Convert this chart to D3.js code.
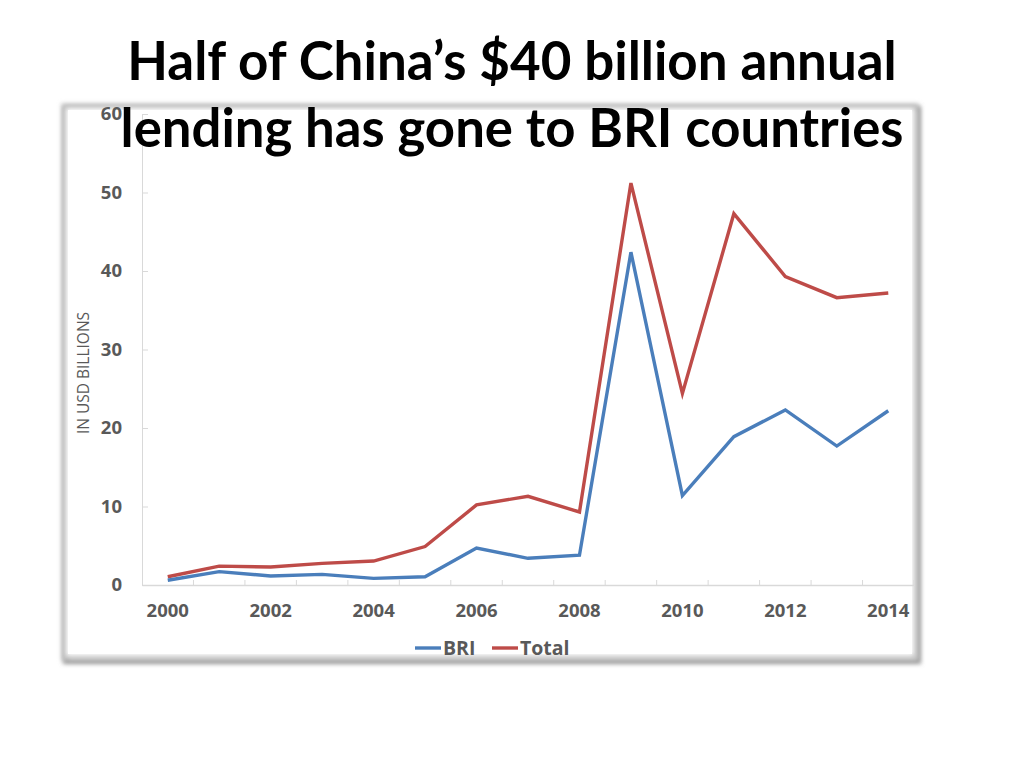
<!DOCTYPE html>
<html>
<head>
<meta charset="utf-8">
<script src="https://cdn.jsdelivr.net/npm/d3@7"></script>
<style>
  body { margin: 0; background: #fff; }
  svg { display: block; }
</style>
</head>
<body>
<div id="chart"></div>
<script>
'use strict';

// data (USD billions)
var years = ["2000", "2001", "2002", "2003", "2004", "2005", "2006", "2007",
             "2008", "2009", "2010", "2011", "2012", "2013", "2014"];
var briValues = [0.6, 1.7, 1.15, 1.35, 0.85, 1.05, 4.7, 3.4, 3.8, 42.4, 11.4, 18.9, 22.3, 17.7, 22.2];
var totalValues = [1.05, 2.4, 2.3, 2.75, 3.05, 4.9, 10.2, 11.3, 9.3, 51.2, 24.4, 47.3, 39.3, 36.6, 37.2];
var yTicks = [0, 10, 20, 30, 40, 50, 60];
var seriesNames = ["BRI", "Total"];
var titleLines = ["Half of China\u2019s $40 billion annual", "lending has gone to BRI countries"];

var width = 1024, height = 768;
var colors = {BRI: "#4a7ebb", Total: "#be4b48"};
var labelColor = "#595959";

var svg = d3.select("#chart")
    .append("svg")
    .attr("width", width)
    .attr("height", height);

var defs = svg.append("defs");
var blur = defs.append("filter")
    .attr("id", "soft")
    .attr("x", "-5%").attr("y", "-5%")
    .attr("width", "110%").attr("height", "110%");
blur.append("feGaussianBlur").attr("stdDeviation", 2.2);

// the gray framed picture
var frame = {x: 64, y: 106, w: 852, h: 552};
svg.append("rect")
    .attr("x", frame.x + 2).attr("y", frame.y + 3)
    .attr("width", frame.w).attr("height", frame.h)
    .attr("fill", "none")
    .attr("stroke", "#9a9a9a")
    .attr("stroke-width", 6)
    .attr("filter", "url(#soft)");
svg.append("rect")
    .attr("x", frame.x).attr("y", frame.y)
    .attr("width", frame.w).attr("height", frame.h)
    .attr("fill", "#fff")
    .attr("stroke", "#c4c4c4")
    .attr("stroke-width", 5)
    .attr("filter", "url(#soft)");
svg.append("rect")
    .attr("x", frame.x + 4).attr("y", frame.y + 4)
    .attr("width", frame.w - 8).attr("height", frame.h - 8)
    .attr("fill", "#fff");

var plot = {left: 142, right: 914, top: 114, bottom: 585};

var x = d3.scaleBand()
    .domain(years)
    .range([plot.left, plot.right])
    .paddingInner(0).paddingOuter(0);

var y = d3.scaleLinear()
    .domain([0, 60])
    .range([plot.bottom, plot.top]);

// y axis
var yAxis = d3.axisLeft(y)
    .tickValues(yTicks)
    .tickSize(0)
    .tickPadding(20);
var gy = svg.append("g")
    .attr("transform", "translate(" + plot.left + ",0)")
    .call(yAxis);
gy.select(".domain").attr("stroke", "#d9d9d9").attr("stroke-width", 1);
gy.selectAll(".tick text")
    .attr("fill", labelColor)
    .style("font-family", "'Open Sans', sans-serif")
    .style("font-weight", "bold")
    .style("font-size", "18.5px");
// small inner tick marks
gy.selectAll(".tick").append("line")
    .attr("x1", 0).attr("x2", 6)
    .attr("stroke", "#d9d9d9");

// x axis
var xAxis = d3.axisBottom(x)
    .tickSize(0)
    .tickPadding(19)
    .tickFormat(function(d, i) { return i % 2 === 0 ? d : ""; });
var gx = svg.append("g")
    .attr("transform", "translate(0," + plot.bottom + ")")
    .call(xAxis);
gx.select(".domain").attr("stroke", "#d9d9d9").attr("stroke-width", 1.5);
gx.selectAll(".tick text")
    .attr("fill", labelColor)
    .style("font-family", "'Open Sans', sans-serif")
    .style("font-weight", "bold")
    .style("font-size", "18.5px");

// category boundary tick marks, pointing up
svg.append("g").selectAll("line")
    .data(years)
    .enter()
    .append("line")
    .attr("x1", function(d) { return x(d) + x.bandwidth(); })
    .attr("x2", function(d) { return x(d) + x.bandwidth(); })
    .attr("y1", plot.bottom)
    .attr("y2", plot.bottom - 5)
    .attr("stroke", "#d9d9d9");

// y axis title
svg.append("text")
    .attr("transform", "translate(89," + 373 + ") rotate(-90)")
    .attr("text-anchor", "middle")
    .attr("fill", labelColor)
    .style("font-family", "'Open Sans', sans-serif")
    .style("font-size", "15.5px")
    .text("IN USD BILLIONS");

// lines
var line = d3.line()
    .x(function(d, i) { return x(years[i]) + x.bandwidth() / 2; })
    .y(function(d) { return y(d); });

var series = [
    {name: "Total", values: totalValues},
    {name: "BRI", values: briValues}
];

svg.append("g").selectAll("path")
    .data(series)
    .enter()
    .append("path")
    .attr("d", function(d) { return line(d.values); })
    .attr("fill", "none")
    .attr("stroke", function(d) { return colors[d.name]; })
    .attr("stroke-width", 3.4)
    .attr("stroke-linejoin", "miter")
    .attr("stroke-linecap", "butt");

// legend
var legendX = [415, 492];
var legend = svg.append("g").selectAll("g")
    .data(seriesNames)
    .enter()
    .append("g")
    .attr("transform", function(d, i) { return "translate(" + legendX[i] + ",648)"; });
legend.append("line")
    .attr("x1", 0).attr("x2", 26)
    .attr("stroke", function(d) { return colors[d]; })
    .attr("stroke-width", 3.4);
legend.append("text")
    .attr("x", 28)
    .attr("dy", "0.35em")
    .attr("fill", labelColor)
    .style("font-family", "'Open Sans', sans-serif")
    .style("font-weight", "bold")
    .style("font-size", "19.5px")
    .text(function(d) { return d; });

// title, drawn last so it sits over the frame
var titleTargets = [770, 783];
var titleBase = [80, 147];
svg.append("g").selectAll("text")
    .data(titleLines)
    .enter()
    .append("text")
    .attr("x", width / 2)
    .attr("y", function(d, i) { return titleBase[i]; })
    .attr("text-anchor", "middle")
    .attr("fill", "#000")
    .style("font-family", "Lato, 'Open Sans', sans-serif")
    .style("font-weight", "bold")
    .style("font-size", "50px")
    .text(function(d) { return d; })
    .each(function(d, i) {
        // scale font size so the line has the width seen in the picture
        var w = this.getComputedTextLength();
        var size = 50 * titleTargets[i] / w;
        d3.select(this).style("font-size", size.toFixed(1) + "px");
    });
</script>
</body>
</html>
